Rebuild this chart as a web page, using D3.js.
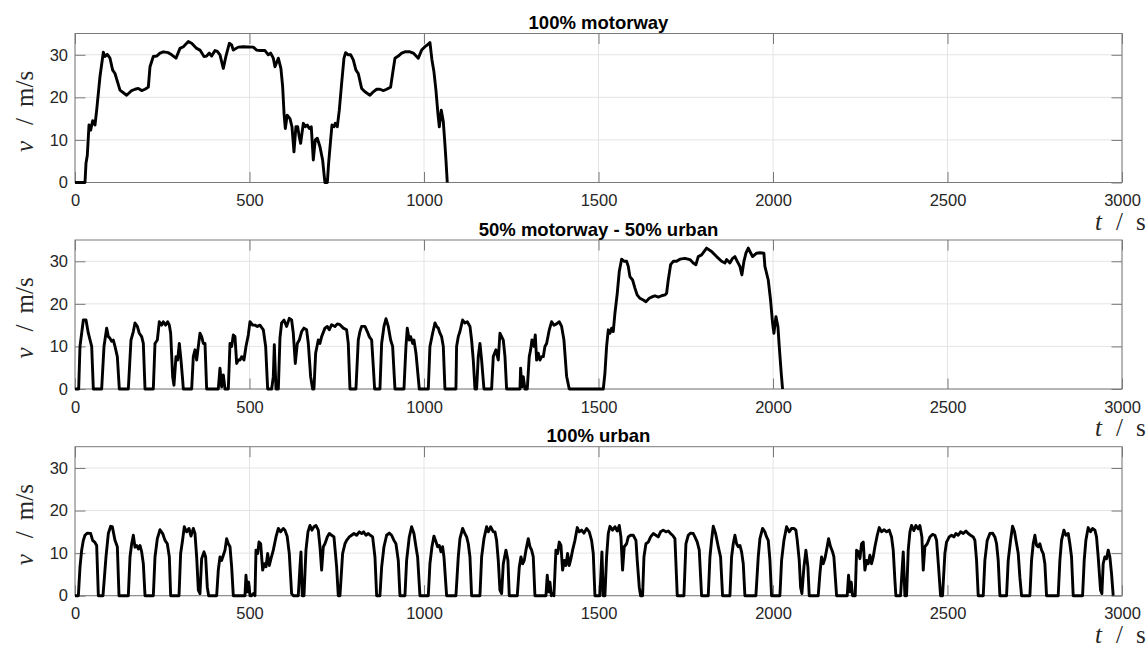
<!DOCTYPE html>
<html>
<head>
<meta charset="utf-8">
<script src="https://cdn.jsdelivr.net/npm/d3@7"></script>
<style>
  html, body { margin: 0; padding: 0; background: #fff; }
  svg { display: block; }
</style>
</head>
<body>
<svg id="chart" width="1148" height="649"></svg>
<script>
// Speed profiles, [time in s, speed in m/s]
const motorwayCycle = [
  [0,0],[28.6,0],[31.5,4.5],[35.3,6.4],[40.1,13.5],[44.9,12.3],[50.6,14.5],[57.3,13.5],[62.1,17],[71.6,24.9],
  [81.2,30.6],[86,29.6],[92.6,30.1],[100.3,29.2],[107.9,26.4],[114.6,25.6],[128.9,21.7],[148,20.5],[162.4,21.6],
  [171.9,21.9],[181.5,22.1],[191,21.6],[200.6,21.9],[210.1,22.4],[214.9,27.2],[224.4,29.6],[234,29.7],[243.5,30.4],
  [253.1,30.7],[267.4,30.5],[277,30],[289.4,29.2],[300.8,31.5],[310.4,31.9],[324.7,33.1],[334.3,32.7],[348.6,31.5],
  [358.1,31.1],[369.6,29.6],[377.2,29.7],[384.9,30.4],[391.6,29.7],[401.1,31],[407.8,30.8],[415.4,30],[420.2,28.4],
  [425,26.8],[432.6,29.7],[442.2,32.7],[448.9,32.3],[453.6,31.1],[468,31.8],[482.3,31.9],[510.9,31.8],[520.5,31.1],
  [530,31],[544.4,31],[553.9,30],[560.6,30.4],[568.2,29.2],[573,27.2],[582.6,29.2],[590,26.8],[595,22.5],[599,16.2],
  [602.6,12.7],[608,15.8],[616,15],[621.7,13.1],[627.4,7.2],[633,13.1],[638,13.1],[642.7,10.7],[646.5,9.2],
  [654.2,13.9],[659.9,13.1],[665.6,13.5],[671.3,12.7],[677,13.1],[682.8,5.3],[688.5,10],[694.3,10.4],[701.9,8.4],
  [709.5,5.3],[713.4,2.1],[716.2,0],[723,0],[726.7,4.5],[732.5,10],[736.3,13.5],[742,13.1],[745.8,13.9],[751.6,13.1],
  [757.3,17],[764,23.3],[770.7,29.2],[775.4,30.5],[783,30],[789.8,30],[797.4,28.8],[805,26.4],[811.7,25.6],
  [821.3,22.1],[830.8,21.3],[845.2,20.5],[854.7,21.3],[864.3,21.9],[873.8,21.9],[883.4,21.6],[893,21.9],[904.4,22.4],
  [910.1,25.6],[916.8,29.2],[926.3,29.7],[935.9,30.4],[945.4,30.7],[959.8,30.7],[969.3,30.4],[983.6,29.2],
  [993.2,31.1],[1002.7,31.9],[1009.4,32.3],[1017,32.9],[1022.8,28.8],[1028.5,26],[1034.2,21.7],[1039.9,16.2],
  [1043.8,13.1],[1049.5,17],[1055.3,14.3],[1059.1,10],[1062.9,5.3],[1066.7,0]
];

const mixedCycle = [
  [0,0],[10.5,0],[14.3,10],[19.1,13.1],[23.9,16.2],[31.5,16.2],[38.2,13.1],[47.8,10],[52.5,0],[76.4,0],[83.1,10],
  [90.7,14.3],[95.5,12.3],[100.3,11.9],[105,11.2],[109.8,11.5],[114.6,10],[121.3,7.6],[127,0],[152.8,0],[160.4,11.5],
  [167.1,13.5],[171.9,15.5],[178.6,14.7],[184.3,13.1],[191,12.3],[195.8,10.7],[200.6,0],[224.4,0],[229.2,10.7],
  [235.9,11.5],[241.6,15.8],[248.3,15],[253.1,15.8],[259.8,15],[265.5,15.8],[270.3,15],[274.1,13.1],[279.8,2.9],
  [283.6,0.9],[289.4,7.6],[294.1,6.8],[298.9,10.7],[303.7,6.8],[308.5,2.1],[310.4,0],[334.3,0],[339,7.6],[343.8,9.2],
  [348.6,6.8],[353.4,10],[358.1,13.1],[362.9,12.3],[367.7,10.7],[372.5,10.7],[377.2,0],[410.6,0],[415.4,4.9],
  [420.2,0.5],[425,3.3],[429.8,0],[439.3,0],[444.1,10.7],[448.9,10],[453.6,12.7],[458.4,12.3],[463.2,6],[468,6.8],
  [472.7,6.8],[477.5,7.6],[484.2,6.8],[489.9,10],[496.6,12.7],[501.4,15.8],[509,15],[515.7,15],[522.4,14.7],[530,15],
  [539.6,13.9],[546.3,10],[552,0],[563.5,0],[568.2,2.9],[571.1,10.4],[575.9,0],[582.6,0],[587.3,12],[592,15.5],
  [598.8,16.2],[606.4,14.7],[614,16.6],[620.7,16.2],[625.5,13.1],[631.2,6],[637,10.7],[642.7,11.5],[649.4,13.5],
  [656,14.3],[663.7,13.9],[668.5,10.7],[675.2,2.9],[680.9,0],[684.7,0],[689.5,8.4],[697.1,11.5],[701.9,10.7],
  [706.7,12.3],[716.2,14.3],[722.9,14.7],[728.6,13.9],[735.3,15.1],[744.9,14.7],[751.6,15.3],[759.2,15.1],
  [768.8,14.3],[778.3,13.9],[783,10.7],[787.9,0],[805,0],[811.7,11.5],[816.5,13.5],[821.3,14.7],[830.8,14.7],
  [837.5,13.5],[843.2,12.3],[850,11.5],[854.7,5.3],[858.5,0],[873.8,0],[878.6,10.7],[885.3,14.7],[891,16.5],
  [897.7,14.7],[904.4,11.5],[910.1,10],[916.8,0],[942.6,0],[948.3,10],[952.1,14.3],[957.8,11.5],[961.7,12.3],
  [967.4,10.7],[971.2,11.5],[977,8.4],[986.5,0],[1012.3,0],[1017,10],[1024.7,13.1],[1031.4,15.5],[1036.2,14.7],
  [1041,14.3],[1045.7,13.1],[1050.5,12.3],[1055.3,10],[1060,0],[1091.5,0],[1093.4,10],[1098.2,12.3],[1103,13.5],
  [1110.6,16.2],[1117.3,15.5],[1124,15.8],[1131.7,14.7],[1136.4,11.5],[1141.2,6.8],[1146,0],[1150.8,0],[1155.5,7.6],
  [1160.3,10.7],[1165.1,6.8],[1171.8,0],[1193.7,0],[1198.5,7.6],[1206.1,9.2],[1212.8,6.8],[1217.6,13.1],[1222.4,12.3],
  [1227.2,11.5],[1232,7.6],[1236.7,0],[1275,0],[1276.8,4.9],[1280.6,0.5],[1284.5,2.9],[1289.2,0],[1295.9,0],
  [1301.6,7.6],[1305.5,9.2],[1309.3,11.5],[1315,10],[1318.8,12.7],[1322.7,6.8],[1327.4,8.4],[1332.2,6.8],[1337,7.6],
  [1341.8,7.6],[1346.5,10],[1351.3,10.7],[1359,13.9],[1365.6,15.8],[1372.3,15],[1380,15.3],[1387.6,15.8],
  [1394.3,14.7],[1401,11.5],[1408.6,3],[1416.2,0],[1513.7,0],[1518.4,3.7],[1523.2,10],[1528,13.9],[1532.8,13.1],
  [1537.5,14.3],[1542.3,13.5],[1547.1,17.8],[1553.8,22.5],[1559.5,27.6],[1566.2,30.5],[1572.9,30],[1580.5,30],
  [1585.3,28.8],[1590,26.4],[1597.7,25.6],[1604.4,23.7],[1610.7,22.1],[1618.7,21.3],[1628.3,20.9],[1635.9,20.5],
  [1645.4,21.3],[1655,21.7],[1661.7,21.9],[1671.2,21.6],[1680.8,21.9],[1690.3,22.1],[1695.1,22.5],[1699.9,25.6],
  [1706.6,29.2],[1714.2,30],[1723.8,30],[1733.3,30.5],[1747.6,30.7],[1762,30.4],[1771.5,29.6],[1779.1,29.2],
  [1785.8,31.1],[1795.4,31.5],[1809.7,33.1],[1824,32.3],[1838.4,31.1],[1852.7,30],[1862.2,29.6],[1867,30.4],
  [1876.5,29.6],[1884.2,30.7],[1890.9,31.1],[1897.6,30],[1905.2,28.8],[1910.9,26.8],[1916.7,30],[1922.4,31.9],
  [1929.1,33.1],[1933.9,32.3],[1941.5,31.1],[1953,31.9],[1962.5,32],[1973.9,31.9],[1976.8,28.8],[1986.4,25.6],
  [1993,20.9],[1998.8,15.5],[2002.6,13.1],[2008.4,17],[2014.1,14.7],[2017.9,10],[2023.6,3.7],[2027.4,0]
];

const urbanCycle = [
  [0,0],[9.6,0],[14.3,6.7],[19.1,10.7],[23.9,13],[28.6,14.2],[35.3,14.7],[44.9,14.6],[50.6,13],[56.3,12.6],[62.1,11.8],
  [66.9,0],[80.2,0],[88.8,9.1],[95.5,14.6],[102.2,16.3],[107,16.2],[114.6,13],[121.3,11.5],[126.1,0],[152.8,0],
  [157.6,9.1],[162.4,12.2],[167.1,14.2],[171.9,11.4],[176.7,11.8],[181.5,11],[186.2,11.8],[191,10.3],[195.8,7.5],
  [200.6,0],[224.4,0],[229.2,9.1],[235.9,13.4],[243.5,15.5],[251.2,14.6],[257.9,13],[264.5,12.2],[270.3,9.1],
  [274.1,0],[298,0],[302.7,9.9],[307.5,12.6],[313.2,16.2],[319.9,15],[326.6,15.8],[332.3,14],[339,15.8],[343.8,14.6],
  [348.6,9.1],[353.4,1.3],[358.1,0.5],[362.9,8.7],[369.6,10.3],[374.3,9.1],[379.1,2],[383,0],[405.9,0],[410.6,6],
  [415.4,9.1],[420.2,8.3],[425,9.5],[429.8,10.7],[434.5,13.4],[439.3,12.2],[444.1,11.5],[448.9,6.7],[453.6,0],
  [487,0],[489.9,4.8],[493.7,0.9],[497.5,3.2],[501.4,0],[506.1,0],[510.9,0.5],[515.7,0],[518.6,10.7],[523.4,9.9],
  [527.2,12.6],[532,12.2],[537.7,6],[542.5,7.5],[547.3,6.8],[552,9.9],[556.8,7.1],[561.6,8.7],[568.2,10.7],
  [575.9,13.8],[582.6,15.8],[589.2,15],[596.9,15.8],[601.6,15.4],[608,13.9],[614,9.9],[620.7,0.5],[625.5,0],
  [639.8,0],[644.6,6.7],[647.5,10.3],[651.3,0],[656.1,0],[661.8,10.7],[667.5,15],[673.3,16.5],[679,15.4],
  [684.7,16.2],[690.4,16.5],[697.1,15.4],[701.9,11.5],[706.7,6],[711.5,11.5],[716.2,12.2],[722.9,13.8],[728.6,14.6],
  [735.3,14.2],[742,13.8],[749.7,6.7],[754.4,0],[759.2,0],[766.8,9.9],[773.5,12.2],[778.3,13],[786,13.8],[792.6,14.2],
  [799.3,14.6],[806.9,14.2],[814.6,15],[821.3,14.6],[827,15],[833.7,14.2],[840.4,14.6],[846.1,14.2],[852.8,13.8],
  [859.5,9.1],[864.3,0],[873.8,0],[878.6,6.7],[885.3,11.5],[892.9,14.2],[900.5,14.7],[907.2,14.2],[913.9,13],
  [919.6,12.2],[926.3,8.3],[931.1,0],[945.4,0],[950.2,8.3],[957.8,13.8],[964.5,16.2],[971.2,14.6],[976.9,11.5],
  [981.7,9.1],[988.4,0],[1012.3,0],[1017,7.5],[1022.8,11.5],[1028.5,14],[1034.2,12.7],[1039,11.5],[1043.8,11.8],
  [1048.6,10.3],[1053.3,11.5],[1057.2,9.1],[1064.8,0],[1091.5,0],[1098.2,9.1],[1103,13.4],[1110.6,15.8],
  [1117.3,14.6],[1122.1,13.8],[1126.9,12.2],[1131.7,9.1],[1136.4,0],[1160.3,0],[1165.1,9.1],[1171.8,13.4],
  [1179.4,16.2],[1184.2,15],[1190.9,16.2],[1198.5,15],[1203.3,15],[1208,13],[1212.8,8.3],[1217.6,1.3],[1222.4,0.5],
  [1227.2,7.5],[1234.8,10.7],[1240.5,8.3],[1244.3,0],[1267.3,0],[1273,6.7],[1277.8,9.1],[1282.6,7.5],[1287.3,8.3],
  [1292.1,10.7],[1298.8,13.4],[1303.6,11.5],[1308.4,10.7],[1313.1,9.1],[1317.9,0],[1349.4,0],[1353.2,4.8],
  [1357,0.9],[1360.9,3.2],[1364.7,0],[1368.5,0.5],[1372.3,0],[1378,10.7],[1382.8,9.9],[1387.6,12.6],[1392.4,11.8],
  [1397.1,6],[1401.9,8.3],[1406.7,7.1],[1411.5,9.9],[1416.2,7.1],[1421,8.7],[1425.8,10.7],[1432.5,13],[1439.2,16],
  [1445,15],[1451.6,15.4],[1458.3,14.7],[1465.9,15.8],[1473.5,15],[1480.2,13],[1485,9.9],[1489.8,0],[1504,0],
  [1509.8,10.3],[1513.7,0],[1518.4,0],[1523.2,9.1],[1528,14.6],[1532.8,16.3],[1540.4,15.4],[1547.1,16.2],
  [1553.8,15.2],[1559.5,16.5],[1564.3,13.8],[1569,6],[1573.8,11.5],[1580.5,12.2],[1585.3,13.8],[1592,14.2],
  [1599.6,14.2],[1607.3,13],[1611,8.3],[1616.8,2],[1620.6,0],[1626.3,0],[1630.2,9.1],[1635.9,12.2],[1642.6,12.6],
  [1649.3,13.8],[1656.9,14.6],[1664.5,14.2],[1671.2,13.8],[1677.9,15],[1685.5,15.4],[1693.2,15],[1699.9,15.2],
  [1706.6,14.6],[1712.3,14.2],[1719,13.4],[1725.7,0],[1744.8,0],[1750.5,12.2],[1757.2,14.2],[1763.9,14.7],
  [1771.5,14.6],[1776.3,13.8],[1783,12.6],[1788.7,10.7],[1795.4,0],[1814.5,0],[1819.3,9.1],[1824,13],[1828.8,16.3],
  [1835.5,14.6],[1843.2,11.5],[1849.8,9.1],[1855.5,0],[1876.6,0],[1881.3,9.1],[1886.1,12.2],[1890.9,14.2],
  [1895.7,12.2],[1900.5,11.5],[1905.2,11.8],[1910,10.3],[1914.8,7.5],[1919.5,0],[1951,0],[1957.7,9.1],[1962.5,13.4],
  [1970.1,15.8],[1976.8,15],[1981.6,13.8],[1986.4,13],[1991.2,8.3],[1995.9,0],[2019.8,0],[2024.6,8.3],[2031.3,13],
  [2038.9,16.2],[2046.5,15],[2053.2,15.8],[2059.9,15.8],[2065.6,15.4],[2069.5,13],[2075.2,8.3],[2079,2],
  [2082.8,0.5],[2088.6,6.7],[2094.3,10.7],[2100,6.7],[2103.8,0],[2129.6,0],[2134.4,5.2],[2139.2,9.1],[2143.9,7.5],
  [2148.7,8.7],[2153.5,10.7],[2159.2,13.4],[2165,11.5],[2170.7,10.3],[2174.5,9.1],[2182.2,0],[2212.7,0],
  [2216.5,4.8],[2220.4,0.9],[2224.2,3.2],[2228,0],[2235.6,0],[2239.5,10.7],[2244.2,10.3],[2249,8.7],[2253.8,12.2],
  [2258.6,12.6],[2263.3,6],[2268.1,8.3],[2272.9,7.5],[2277.7,9.5],[2282.4,7.5],[2287.2,9.1],[2292,11.5],
  [2298.7,14.2],[2304.4,16],[2311.1,15],[2317.8,15.5],[2325.4,15],[2333.1,15.4],[2339.7,13.8],[2344.5,10.7],
  [2349.3,3.6],[2352.1,0],[2365.5,0],[2369.3,5.2],[2373.2,10.3],[2377.9,0],[2382.7,0],[2387.5,10.7],[2392.3,15],
  [2397,16.5],[2403.7,15.3],[2409.4,16.5],[2416.1,15.7],[2420.9,16.5],[2426.6,13.8],[2430.5,6],[2435.2,11.5],
  [2441.9,12.2],[2449.6,13.8],[2457.2,14.4],[2463.9,14.2],[2468.7,13],[2474.4,6.7],[2480.1,0],[2485.8,0],
  [2492.5,9.9],[2497.3,12.6],[2504.9,13.8],[2511.6,14.2],[2518.3,13.8],[2524,14.6],[2530.7,14.2],[2537.4,15],
  [2545.1,14.6],[2552.7,15.2],[2559.4,14.6],[2566.1,14.2],[2573.7,13.8],[2578.5,13],[2583.3,8.3],[2588,0],
  [2602.4,0],[2607.1,8.3],[2613.8,13],[2621.5,14.6],[2629.1,14.7],[2635.8,13.8],[2640.6,12.2],[2645.3,8.3],
  [2650.1,0],[2669.2,0],[2674,8.3],[2680.7,13],[2686.4,16.3],[2692.1,15],[2697.9,12.2],[2702.7,9.9],[2707.4,4.3],
  [2712.2,0],[2736.1,0],[2740.8,8.3],[2745.6,12.2],[2750.4,14.2],[2755.2,11.8],[2759.9,11.5],[2764.7,12.2],
  [2769.5,10.7],[2774.3,9.9],[2779,7.5],[2783.8,0],[2817.2,0],[2822,8.3],[2826.8,13],[2833.5,15.4],[2839.2,14.2],
  [2846,14.6],[2850.6,12.2],[2855.4,9.1],[2860.2,0],[2887,0],[2891.7,8.3],[2896.5,13],[2903.2,16],[2909.9,15],
  [2915.6,15.8],[2922.3,15.4],[2927,13.8],[2931.8,9.1],[2938.5,1.3],[2942.3,0.5],[2946.1,7.5],[2950.9,9.1],
  [2955.7,8.7],[2960.5,10.7],[2965.2,9.1],[2970,5.2],[2974.8,0]
];

const panelTitles = ["100% motorway", "50% motorway - 50% urban", "100% urban"];
const timeTicks = [0, 500, 1000, 1500, 2000, 2500, 3000];
const speedTicks = [0, 10, 20, 30];
const timeDomain = [0, 3000];
const speedDomain = [0, 35];

const panels = [motorwayCycle, mixedCycle, urbanCycle];

// Layout
const plotLeft = 75, plotRight = 1122;
const panelTops = [33.5, 240, 446.7];
const panelHeight = 149;
const tickLen = 10.5;
const axisColor = "#7a7a7a";
const gridColor = "#e4e4e4";
const textColor = "#262626";
const sansFont = "'Liberation Sans', Arial, Helvetica, sans-serif";
const serifFont = "'Liberation Serif', 'Times New Roman', serif";

const svg = d3.select("#chart");

const x = d3.scaleLinear().domain(timeDomain).range([plotLeft, plotRight]);

panels.forEach((series, i) => {
  const top = panelTops[i];
  const bottom = top + panelHeight;
  const y = d3.scaleLinear().domain(speedDomain).range([bottom, top]);
  const g = svg.append("g");

  // Grid
  g.append("g").selectAll("line.gx").data(timeTicks).join("line")
    .attr("x1", d => x(d)).attr("x2", d => x(d))
    .attr("y1", top).attr("y2", bottom)
    .attr("stroke", gridColor).attr("stroke-width", 1);
  g.append("g").selectAll("line.gy").data(speedTicks).join("line")
    .attr("x1", plotLeft).attr("x2", plotRight)
    .attr("y1", d => y(d)).attr("y2", d => y(d))
    .attr("stroke", gridColor).attr("stroke-width", 1);

  // Axes with inward ticks
  const styleAxis = sel => {
    sel.select(".domain").remove();
    sel.selectAll(".tick line").attr("stroke", axisColor).attr("stroke-width", 1);
    sel.selectAll(".tick text").attr("fill", textColor)
      .style("font-family", sansFont).style("font-size", "16.5px");
  };

  g.append("g").attr("transform", `translate(0,${bottom})`)
    .call(d3.axisBottom(x).tickValues(timeTicks).tickSize(-tickLen).tickPadding(12).tickFormat(d3.format("d")))
    .call(styleAxis);
  g.append("g").attr("transform", `translate(0,${top})`)
    .call(d3.axisTop(x).tickValues(timeTicks).tickSize(-tickLen).tickFormat(""))
    .call(styleAxis);
  g.append("g").attr("transform", `translate(${plotLeft},0)`)
    .call(d3.axisLeft(y).tickValues(speedTicks).tickSize(-tickLen).tickPadding(7).tickFormat(d3.format("d")))
    .call(styleAxis);
  g.append("g").attr("transform", `translate(${plotRight},0)`)
    .call(d3.axisRight(y).tickValues(speedTicks).tickSize(-tickLen).tickFormat(""))
    .call(styleAxis);

  // Box
  g.append("rect")
    .attr("x", plotLeft).attr("y", top)
    .attr("width", plotRight - plotLeft).attr("height", panelHeight)
    .attr("fill", "none").attr("stroke", axisColor).attr("stroke-width", 1);

  // Speed trace
  const line = d3.line().x(d => x(d[0])).y(d => y(d[1]));
  g.append("path")
    .datum(series)
    .attr("d", line)
    .attr("fill", "none")
    .attr("stroke", "#000")
    .attr("stroke-width", 2.9)
    .attr("stroke-linejoin", "round");

  // Title
  g.append("text")
    .attr("x", (plotLeft + plotRight) / 2).attr("y", top - 4.5)
    .attr("text-anchor", "middle")
    .style("font-family", sansFont).style("font-weight", "bold").style("font-size", "18.5px")
    .attr("fill", "#000")
    .text(panelTitles[i]);

  // y-axis label: v / m/s
  const yl = g.append("text")
    .attr("transform", `translate(33,${(top + bottom) / 2 + 44}) rotate(-90)`)
    .style("font-family", serifFont).style("font-size", "25px")
    .attr("fill", textColor);
  yl.append("tspan").attr("x", 0).style("font-style", "italic").text("v");
  yl.append("tspan").attr("x", 27).text("/");
  yl.append("tspan").attr("x", 45).text("m/s");

  // x-axis label: t / s
  const xl = g.append("text")
    .attr("transform", `translate(1095,${bottom + 47})`)
    .style("font-family", serifFont).style("font-size", "25px")
    .attr("fill", textColor);
  xl.append("tspan").attr("x", 0).style("font-style", "italic").text("t");
  xl.append("tspan").attr("x", 21).text("/");
  xl.append("tspan").attr("x", 41).text("s");
});
</script>
</body>
</html>
